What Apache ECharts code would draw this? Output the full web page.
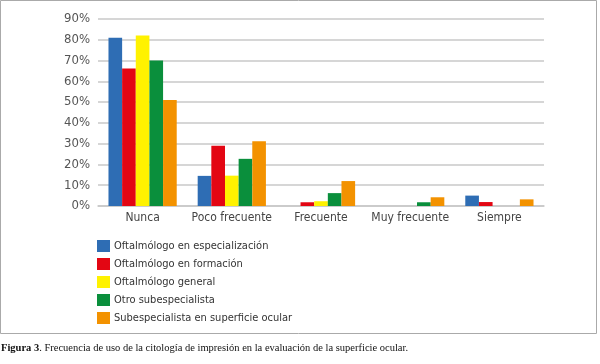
<!DOCTYPE html>
<html><head><meta charset="utf-8">
<script src="https://cdn.jsdelivr.net/npm/echarts@6/dist/echarts.min.js"></script>
<style>html,body{margin:0;padding:0;background:#fff;}#c{width:600px;height:364px;}</style>
</head><body><div id="c"></div>
<script>
var categories = ['Nunca', 'Poco frecuente', 'Frecuente', 'Muy frecuente', 'Siempre'];
var seriesNames = ['Oftalmólogo en especialización', 'Oftalmólogo en formación', 'Oftalmólogo general', 'Otro subespecialista', 'Subespecialista en superficie ocular'];
var especializacion = [81, 14.5, 0, 0, 5];
var formacion = [66.2, 29, 1.8, 0, 1.9];
var general = [82, 14.6, 2.3, 0, 0];
var otro = [70, 22.7, 6.2, 1.8, 0];
var superficie = [51, 31.2, 12, 4.2, 3.2];
var yTicks = [0, 10, 20, 30, 40, 50, 60, 70, 80, 90];
var colors = ['#2e6db4', '#e30613', '#fff200', '#0a8f3c', '#f39200'];
var caption = 'Frecuencia de uso de la citología de impresión en la evaluación de la superficie ocular.';

var values = [especializacion, formacion, general, otro, superficie];
var sansFont = '"Liberation Sans Narrow","DejaVu Sans Condensed",sans-serif';
var chart = echarts.init(document.getElementById('c'));
chart.setOption({
  animation: false,
  color: colors,
  grid: {left: 98, right: 56, top: 19, bottom: 158},
  legend: {
    orient: 'vertical', left: 92, top: 235,
    itemWidth: 13, itemHeight: 12, itemGap: 6,
    icon: 'rect',
    textStyle: {fontFamily: sansFont, fontSize: 11, color: '#333', padding: [0, 0, 0, -1]},
    data: seriesNames
  },
  xAxis: {
    type: 'category', data: categories,
    axisLine: {lineStyle: {color: '#c8c8c8', width: 1.5}},
    axisTick: {show: false},
    axisLabel: {fontFamily: sansFont, fontSize: 12, color: '#444', margin: 6, interval: 0}
  },
  yAxis: {
    type: 'value', min: yTicks[0], max: yTicks[yTicks.length - 1], interval: 10,
    axisLine: {show: false}, axisTick: {show: false},
    splitLine: {lineStyle: {color: '#c8c8c8', width: 1.5}},
    axisLabel: {fontFamily: sansFont, fontSize: 13, color: '#555', margin: 8, formatter: '{value}%'}
  },
  series: seriesNames.map(function (n, i) {
    return {name: n, type: 'bar', data: values[i], barGap: '0%', barCategoryGap: '23.5%'};
  }),
  graphic: [
    {type: 'rect', shape: {x: 0.5, y: 0.5, width: 596, height: 333}, style: {fill: 'none', stroke: '#aaa', lineWidth: 1}, silent: true},
    {type: 'text', left: 1, top: 343, style: {
      text: '{b|Figura 3}. ' + caption,
      rich: {b: {fontWeight: 'bold', fontFamily: '"Liberation Serif",serif', fontSize: 10.5, fill: '#111'}},
      fontFamily: '"Liberation Serif",serif', fontSize: 10.5, fill: '#111'
    }}
  ]
});
</script></body></html>
